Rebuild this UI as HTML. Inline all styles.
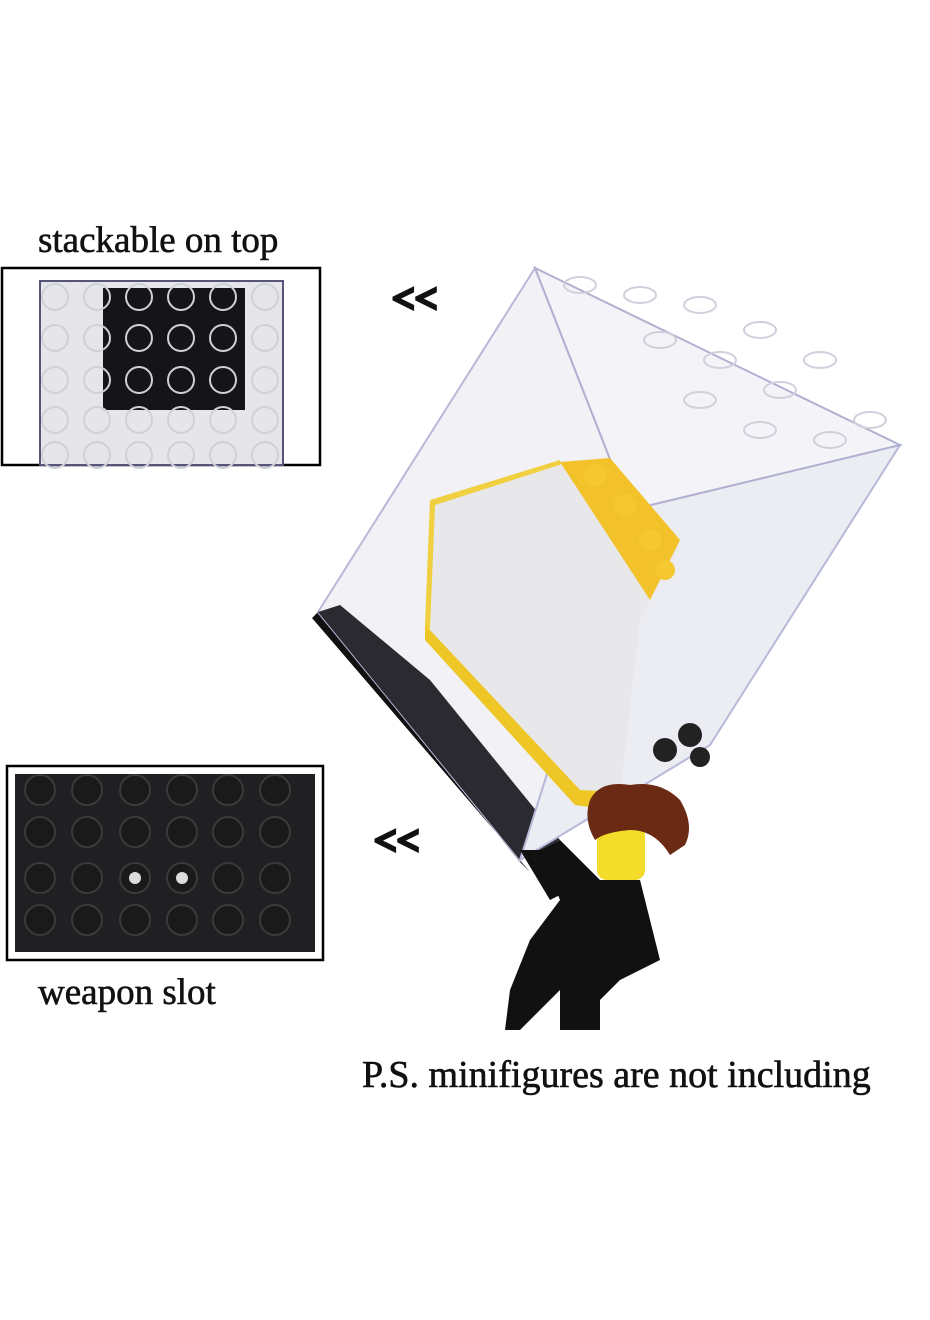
<!DOCTYPE html><html><head><style>
body{margin:0;background:#fff}
svg{display:block}
text{font-family:"Liberation Serif",serif;fill:#111}
</style></head><body>
<svg width="930" height="1320" viewBox="0 0 930 1320" xmlns="http://www.w3.org/2000/svg">
<rect width="930" height="1320" fill="#fff"/>
<text x="38" y="252" font-size="37" stroke="#111" stroke-width="0.6">stackable on top</text>
<rect x="2" y="268" width="318" height="197" fill="#fff" stroke="#000" stroke-width="2.5"/>
<rect x="40" y="281" width="243" height="184" fill="#e6e6ea" stroke="#55557a" stroke-width="2"/>
<rect x="103" y="288" width="142" height="122" fill="#151518"/>
<g fill="none" stroke="#cfd0d8" stroke-width="2">
<g id="r1"><circle cx="55" cy="297" r="13"/><circle cx="97" cy="297" r="13"/><circle cx="139" cy="297" r="13"/><circle cx="181" cy="297" r="13"/><circle cx="223" cy="297" r="13"/><circle cx="265" cy="297" r="13"/></g>
<use href="#r1" y="41"/><use href="#r1" y="83"/><use href="#r1" y="123"/><use href="#r1" y="158"/>
</g>
<text x="392" y="312" font-size="40" font-family="Liberation Sans" font-weight="bold" stroke="#111" stroke-width="3">&lt;&lt;</text>
<rect x="7" y="766" width="316" height="194" fill="#fff" stroke="#000" stroke-width="2.5"/>
<rect x="15" y="774" width="300" height="178" fill="#202022"/>
<g fill="#1a1a1b" stroke="#3a3a3d" stroke-width="2">
<g id="r2"><circle cx="40" cy="790" r="15"/><circle cx="87" cy="790" r="15"/><circle cx="135" cy="790" r="15"/><circle cx="182" cy="790" r="15"/><circle cx="228" cy="790" r="15"/><circle cx="275" cy="790" r="15"/></g>
<use href="#r2" y="42"/><use href="#r2" y="88"/><use href="#r2" y="130"/>
</g>
<circle cx="135" cy="878" r="6" fill="#ddd"/><circle cx="182" cy="878" r="6" fill="#ddd"/>
<text x="374" y="854" font-size="40" font-family="Liberation Sans" font-weight="bold" stroke="#111" stroke-width="3">&lt;&lt;</text>
<text x="38" y="1004" font-size="37" stroke="#111" stroke-width="0.6">weapon slot</text>
<text x="362" y="1087" font-size="38" stroke="#111" stroke-width="0.6">P.S. minifigures are not including</text>
<!-- cube -->
<polygon points="318,612 520,862 530,872 312,618" fill="#111"/>
<polygon points="535,268 318,612 520,860 630,510" fill="#f1f1f6" stroke="#b8b8d8" stroke-width="2"/>
<polygon points="318,612 520,860 560,840 430,680 340,605" fill="#2a2a30"/>
<polygon points="630,510 900,445 710,745 520,860" fill="#ececf3" stroke="#b8b8d8" stroke-width="2"/>
<polygon points="535,268 900,445 630,510" fill="#f4f4f8" stroke="#b0b0d0" stroke-width="2"/>
<g fill="none" stroke="#d0d0dc" stroke-width="2">
<ellipse cx="580" cy="285" rx="16" ry="8"/><ellipse cx="640" cy="295" rx="16" ry="8"/><ellipse cx="700" cy="305" rx="16" ry="8"/><ellipse cx="760" cy="330" rx="16" ry="8"/><ellipse cx="820" cy="360" rx="16" ry="8"/><ellipse cx="870" cy="420" rx="16" ry="8"/>
<ellipse cx="660" cy="340" rx="16" ry="8"/><ellipse cx="720" cy="360" rx="16" ry="8"/><ellipse cx="780" cy="390" rx="16" ry="8"/><ellipse cx="700" cy="400" rx="16" ry="8"/><ellipse cx="760" cy="430" rx="16" ry="8"/><ellipse cx="830" cy="440" rx="16" ry="8"/>
</g>
<!-- brick -->
<polygon points="425,625 430,500 560,460 620,790 570,790" fill="#f0d040"/>
<polygon points="435,505 575,460 680,545 640,620 620,795 580,790 430,630" fill="#e8e8ea"/>
<polygon points="560,462 610,458 680,540 650,600" fill="#f3c22a"/>
<g fill="#f5c832"><circle cx="595" cy="475" r="11"/><circle cx="625" cy="505" r="11"/><circle cx="650" cy="540" r="11"/><circle cx="665" cy="570" r="10"/></g>
<polygon points="425,625 580,790 620,792 610,810 575,805 425,640" fill="#eec626"/>
<g fill="#222"><circle cx="690" cy="735" r="12"/><circle cx="665" cy="750" r="12"/><circle cx="700" cy="757" r="10"/></g>
<!-- minifigure -->
<path d="M540,850 L560,840 L600,880 L640,880 L660,960 L620,980 L600,1000 L600,1030 L560,1030 L560,990 L520,1030 L505,1030 L510,990 L530,940 L560,900 Z" fill="#111"/>
<path d="M520,850 L545,850 L570,890 L550,900Z" fill="#111"/>
<rect x="597" y="825" width="48" height="55" rx="10" fill="#f3dc2a"/>
<path d="M590,800 Q600,780 630,785 Q660,780 680,800 Q695,825 685,845 L670,855 Q655,830 630,830 Q605,832 595,840 Q583,820 590,800Z" fill="#6b2a14"/>
</svg>
</body></html>
